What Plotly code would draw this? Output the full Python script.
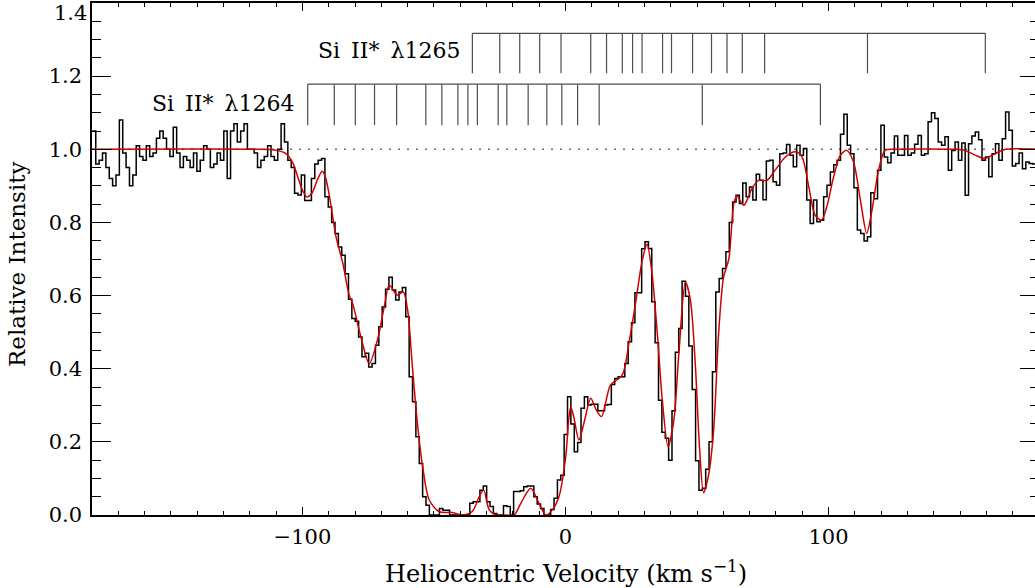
import numpy as np
import plotly.graph_objects as go

# ---------------- data ----------------
# spectrum: regular pixel grid (left edge of first pixel, pixel width, km/s)
v_first_edge = -179.85
pixel_width = 1.281

flux_blue = [
    1.05, 0.96, 0.97, 0.99, 0.95, 0.92, 0.90, 0.93, 1.08, 0.99,
    0.95, 0.90, 0.93, 1.01, 0.98, 0.97, 1.01, 0.98, 0.99, 1.03,
    1.05, 1.03, 1.00, 0.98, 1.06, 0.99, 0.95, 0.98, 0.97, 0.95,
    0.99, 0.94, 0.97, 1.01, 1.00, 0.95, 0.96, 0.99, 0.97, 1.05,
    0.92, 1.05, 1.07, 1.02, 1.05, 1.07, 1.00, 1.00, 0.99, 0.95,
    0.97, 0.98, 1.01, 0.98, 0.97, 1.00, 1.07, 1.02, 0.97, 0.95,
    0.88, 0.875, 0.93, 0.86, 0.86, 0.92, 0.96, 0.97, 0.975, 0.87,
    0.842, 0.80, 0.77, 0.733, 0.71, 0.66, 0.59, 0.537, 0.53, 0.487,
]
flux_core = [
    0.433, 0.442, 0.405, 0.414, 0.464, 0.515, 0.569, 0.617, 0.650, 0.615,
    0.588, 0.610, 0.622, 0.542, 0.378, 0.310, 0.214, 0.141, 0.05, 0.027,
    0.0, 0.0, 0.0, 0.018, 0.013, 0.013, 0.0, 0.0, 0.0, 0.0,
    0.0, 0.0, 0.032, 0.036, 0.036, 0.068, 0.079, 0.036, 0.023, 0.004,
    0.0, 0.0, 0.025, 0.023, 0.0, 0.064, 0.064, 0.066, 0.077, 0.079,
    0.079, 0.05, 0.03, 0.018, 0.0, 0.0, 0.015, 0.046, 0.096, 0.109,
    0.22, 0.323, 0.249, 0.173, 0.198, 0.292, 0.323, 0.301, 0.303, 0.303,
    0.285, 0.285, 0.301, 0.302, 0.357, 0.373, 0.378, 0.378, 0.414, 0.474,
    0.526, 0.608, 0.608, 0.728, 0.747, 0.729, 0.583, 0.471, 0.314, 0.226,
    0.21, 0.15, 0.285, 0.445, 0.51, 0.639, 0.598, 0.462, 0.343, 0.148,
    0.068, 0.073, 0.125, 0.2, 0.392, 0.61, 0.647, 0.674,
]
flux_red = [
    0.72, 0.80, 0.856, 0.874, 0.852, 0.908, 0.87, 0.897, 0.861, 0.932,
    0.915, 0.862, 0.968, 0.97, 0.911, 0.902, 0.988, 0.99, 1.013, 0.984,
    0.952, 1.011, 0.984, 1.002, 0.861, 0.797, 0.861, 0.802, 0.806, 0.87,
    0.902, 0.938, 0.958, 0.97, 1.041, 1.096, 1.011, 0.988, 0.895, 0.779,
    0.77, 0.749, 0.761, 0.881, 0.865, 0.943, 1.066, 0.979, 0.963, 0.99,
    1.036, 0.984, 0.984, 1.038, 0.984, 0.99, 1.014, 1.038, 0.984, 0.988,
    1.075, 1.10, 1.084, 1.02, 1.011, 1.034, 0.943, 0.997, 1.02, 0.97,
    1.017, 0.874, 1.015, 1.036, 1.047, 1.026, 0.97, 0.979, 0.925, 0.988,
    1.015, 0.97, 1.029, 1.102, 1.052, 0.954, 0.961, 0.99, 0.947, 0.965,
    0.961, 0.96, 0.97,
]

# fitted model (velocity, normalized flux)
model_v = [-180, -118.6, -110.7, -106.7, -103.8, -101.8, -99.8, -98.4, -96.4, -94.4,
           -92.5, -91.3, -89.7, -87.2, -84.7, -82.2, -80.9, -77.8, -74.6, -71.5,
           -68.9, -67.0, -63.9, -61.7, -60.0, -58.2, -56.3, -54.3, -51.8, -48.0,
           -43.0, -39.1, -35.4, -32.8, -31.1, -29.0, -26.5, -22.7, -19.5, -17.0,
           -13.2, -10.1, -7.5, -5.0, -2.5, 0.1, 1.2, 2.0, 3.1, 5.1,
           7.0, 9.6, 11.5, 13.7, 17.1, 21.6, 24.1, 26.6, 29.2, 31.0,
           32.9, 34.9, 36.8, 39.0, 41.2, 43.1, 45.6, 47.5, 49.4, 51.0,
           52.5, 54.5, 56.4, 58.2, 60.1, 62.1, 64.0, 65.2, 67.8, 70.9,
           73.4, 76.6, 79.7, 83.6, 87.4, 89.9, 92.5, 94.9, 97.3, 99.3,
           101.9, 104.5, 106.9, 109.5, 112.1, 114.5, 116.5, 119.0, 121.5, 124.9,
           147.5, 151.9, 155.7, 159.5, 163.3, 167.3, 180]
model_f = [1.0, 1.0, 0.998, 0.99, 0.965, 0.925, 0.885, 0.87, 0.88, 0.915,
           0.94, 0.925, 0.87, 0.76, 0.69, 0.60, 0.578, 0.487, 0.414, 0.478,
           0.569, 0.628, 0.601, 0.610, 0.560, 0.405, 0.251, 0.132, 0.041, 0.009,
           0.007, 0.0, 0.01, 0.05, 0.068, 0.014, 0.0, 0.0, 0.0, 0.032,
           0.073, 0.032, 0.0, 0.014, 0.05, 0.16, 0.26, 0.296, 0.27, 0.205,
           0.251, 0.319, 0.29, 0.269, 0.355, 0.383, 0.469, 0.578, 0.697, 0.740,
           0.660, 0.496, 0.314, 0.187, 0.26, 0.442, 0.637, 0.587, 0.405, 0.178,
           0.061, 0.114, 0.241, 0.496, 0.651, 0.70, 0.852, 0.872, 0.847, 0.893,
           0.915, 0.915, 0.943, 0.979, 0.993, 0.979, 0.897, 0.820, 0.806, 0.842,
           0.924, 0.984, 0.997, 0.965, 0.861, 0.770, 0.833, 0.943, 0.997, 1.0,
           1.0, 0.997, 0.984, 0.975, 0.988, 1.0, 1.0]

# component velocities (km/s)
comp_1264 = [-98.0, -87.9, -79.9, -72.6, -64.2, -53.1, -47.0, -40.9, -37.1, -33.5,
             -25.6, -22.3, -14.2, -7.1, -1.4, 4.6, 12.8, 52.0, 96.9]
comp_1265 = [-35.4, -25.0, -17.4, -9.8, -1.7, 9.6, 15.6, 21.6, 25.5, 29.1,
             36.9, 40.3, 48.3, 55.5, 61.4, 67.2, 75.7, 114.8, 159.6]

label_1264 = "Si\u2002II*\u2002\u03bb1264"
label_1265 = "Si\u2002II*\u2002\u03bb1265"

x_ticks = [-100, 0, 100]
x_tick_text = ["\u2212100", "0", "100"]
y_ticks = [0.0, 0.2, 0.4, 0.6, 0.8, 1.0, 1.2]
y_tick_text = ["0.0", "0.2", "0.4", "0.6", "0.8", "1.0", "1.2"]
y_top_label = "1.4"

# ---------------- figure ----------------
FONT = "DejaVu Serif"
flux = flux_blue + flux_core + flux_red
edges = v_first_edge + pixel_width * np.arange(len(flux) + 1)
flux_steps = flux + [flux[-1]]

fig = go.Figure()

# continuum level
fig.add_trace(go.Scatter(x=[-180, 180], y=[1.0, 1.0], mode="lines",
                         line=dict(color="#6a6a6a", width=1.4, dash="2px,7px"),
                         hoverinfo="skip"))


def bracket(comps, y_bar, y_tip):
    xs, ys = [comps[0], comps[-1], None], [y_bar, y_bar, None]
    for c in comps:
        xs += [c, c, None]
        ys += [y_bar, y_tip, None]
    return xs, ys


for comps, yb, yt in [(comp_1264, 1.178, 1.066), (comp_1265, 1.317, 1.208)]:
    bx, by = bracket(comps, yb, yt)
    fig.add_trace(go.Scatter(x=bx, y=by, mode="lines",
                             line=dict(color="#4d4d4d", width=1.2),
                             hoverinfo="skip"))

fig.add_trace(go.Scatter(x=edges, y=flux_steps, mode="lines",
                         line=dict(color="black", width=1.5, shape="hv")))
fig.add_trace(go.Scatter(x=model_v, y=model_f, mode="lines",
                         line=dict(color="#d10000", width=1.5, shape="spline",
                                   smoothing=0.8)))

fig.add_annotation(x=-102.6, y=1.126, xref="x", yref="y", text=label_1264,
                   showarrow=False, xanchor="right", yanchor="middle",
                   font=dict(family=FONT, size=22, color="black"))
fig.add_annotation(x=-39.4, y=1.269, xref="x", yref="y", text=label_1265,
                   showarrow=False, xanchor="right", yanchor="middle",
                   font=dict(family=FONT, size=22, color="black"))

# top y tick label, kept inside the page like the reference
fig.add_annotation(x=0, y=1.4, xref="paper", yref="y", text=y_top_label,
                   showarrow=False, xanchor="right", yanchor="middle",
                   xshift=-4, yshift=-10, borderpad=0,
                   font=dict(family=FONT, size=21, color="black"))

fig.add_annotation(x=0.501, y=0, xref="paper", yref="paper",
                   text="Heliocentric Velocity (km s<sup>\u22121</sup>)",
                   showarrow=False, xanchor="center", yanchor="middle", yshift=-57,
                   font=dict(family=FONT, size=24, color="black"))
fig.add_annotation(x=0, y=0.5, xref="paper", yref="paper",
                   text="Relative Intensity", textangle=-90,
                   showarrow=False, xanchor="center", yanchor="middle", xshift=-75,
                   yshift=-6,
                   font=dict(family=FONT, size=23, color="black"))

fig.update_xaxes(range=[-180, 180], tickvals=x_ticks, ticktext=x_tick_text,
                 ticks="inside", ticklen=8, tickwidth=1.3, tickcolor="black",
                 showline=True, linecolor="black", linewidth=1.5, mirror="ticks",
                 showgrid=False, zeroline=False, ticklabelstandoff=2,
                 tickfont=dict(family=FONT, size=21, color="black"),
                 minor=dict(dtick=10, tick0=0, ticks="inside", ticklen=4.5,
                            tickwidth=1.1, tickcolor="black", showgrid=False))
fig.update_yaxes(range=[0, 1.4], tickvals=y_ticks, ticktext=y_tick_text,
                 ticks="inside", ticklen=19, tickwidth=1.3, tickcolor="black",
                 showline=True, linecolor="black", linewidth=1.5, mirror="ticks",
                 showgrid=False, zeroline=False, ticklabelstandoff=4,
                 tickfont=dict(family=FONT, size=21, color="black"),
                 minor=dict(dtick=0.05, tick0=0, ticks="inside", ticklen=9.5,
                            tickwidth=1.1, tickcolor="black", showgrid=False))

fig.update_layout(width=1042, height=588, autosize=False,
                  margin=dict(l=92, r=1, t=3, b=73),
                  plot_bgcolor="white", paper_bgcolor="white", showlegend=False,
                  font=dict(family=FONT, size=21, color="black"))

fig.write_html("out.html",
               post_script="document.body.style.overflow='hidden';"
                           "document.documentElement.style.overflow='hidden';")
